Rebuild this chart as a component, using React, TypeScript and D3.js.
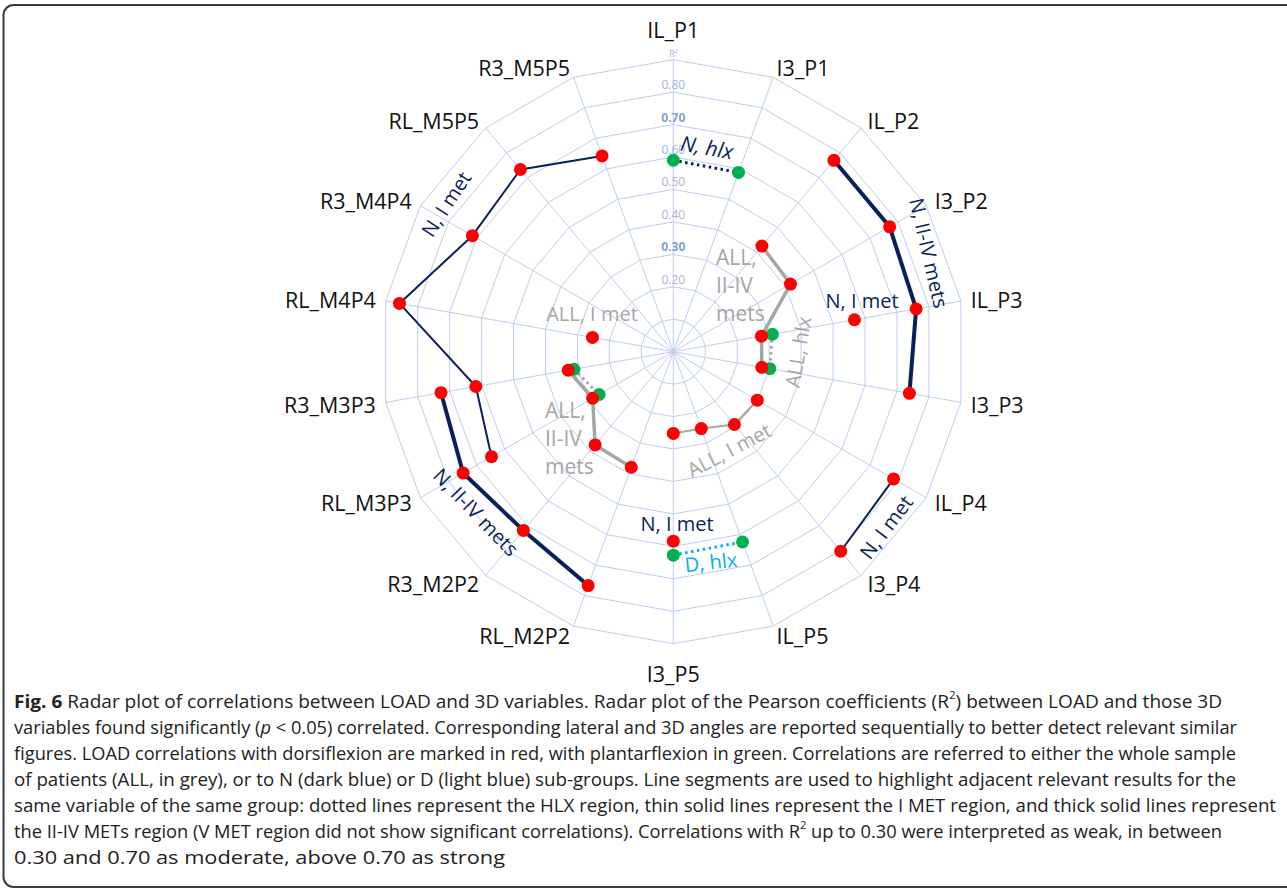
import React from "react";
import * as d3 from "d3";

const axisNames = [
  "IL_P1", "I3_P1", "IL_P2", "I3_P2", "IL_P3", "I3_P3", "IL_P4", "I3_P4", "IL_P5",
  "I3_P5", "RL_M2P2", "R3_M2P2", "RL_M3P3", "R3_M3P3", "RL_M4P4", "R3_M4P4", "RL_M5P5", "R3_M5P5",
];
const ringValues = [0.1, 0.2, 0.3, 0.4, 0.5, 0.6, 0.7, 0.8, 0.9];
const ringLabels = ["", "0.20", "0.30", "0.40", "0.50", "0.60", "0.70", "0.80", "R²"];

// series: axes + values, kind = dorsiflexion (red) or plantarflexion (green)
const nHlxAxes = ["IL_P1", "I3_P1"];
const nHlxValues = [0.59, 0.588];
const nIIIVRightAxes = ["IL_P2", "I3_P2", "IL_P3", "I3_P3"];
const nIIIVRightValues = [0.77, 0.77, 0.76, 0.739];
const nImetP3Axes = ["IL_P3"];
const nImetP3Values = [0.567];
const nImetP4Axes = ["IL_P4", "I3_P4"];
const nImetP4Values = [0.784, 0.803];
const nImetP5Axes = ["I3_P5"];
const nImetP5Values = [0.584];
const dHlxAxes = ["I3_P5", "IL_P5"];
const dHlxValues = [0.627, 0.624];
const allIIIVRightAxes = ["IL_P2", "I3_P2", "IL_P3", "I3_P3"];
const allIIIVRightValues = [0.425, 0.417, 0.276, 0.277];
const allHlxRightAxes = ["IL_P3", "I3_P3"];
const allHlxRightValues = [0.31, 0.302];
const allImetRightAxes = ["IL_P4", "I3_P4", "IL_P5", "I3_P5"];
const allImetRightValues = [0.299, 0.293, 0.252, 0.252];
const allImetLeftAxes = ["RL_M4P4"];
const allImetLeftValues = [0.253];
const allIIIVLeftAxes = ["R3_M3P3", "RL_M3P3", "R3_M2P2", "RL_M2P2"];
const allIIIVLeftValues = [0.329, 0.287, 0.375, 0.379];
const allHlxLeftAxes = ["R3_M3P3", "RL_M3P3"];
const allHlxLeftValues = [0.311, 0.264];
const nImetLeftAxes = ["R3_M5P5", "RL_M5P5", "R3_M4P4", "RL_M4P4", "R3_M3P3", "RL_M3P3"];
const nImetLeftValues = [0.642, 0.733, 0.715, 0.857, 0.618, 0.647];
const nIIIVLeftAxes = ["R3_M3P3", "RL_M3P3", "R3_M2P2", "RL_M2P2"];
const nIIIVLeftValues = [0.727, 0.748, 0.719, 0.767];

const NAVY = "#0a1f5c";
const GREY = "#a6a6a6";
const LBLUE = "#00b0f0";
const RED = "#ff0000";
const GREEN = "#00b050";
const GRID = "#bccdec";

type Series = { axes: string[]; values: number[]; kind: "d" | "p"; color: string; width: number; dash?: string };

const series: Series[] = [
  { axes: nHlxAxes, values: nHlxValues, kind: "p", color: NAVY, width: 3, dash: "2.5 3.5" },
  { axes: nIIIVRightAxes, values: nIIIVRightValues, kind: "d", color: NAVY, width: 4 },
  { axes: nImetP3Axes, values: nImetP3Values, kind: "d", color: NAVY, width: 2 },
  { axes: nImetP4Axes, values: nImetP4Values, kind: "d", color: NAVY, width: 2 },
  { axes: nImetP5Axes, values: nImetP5Values, kind: "d", color: NAVY, width: 2 },
  { axes: dHlxAxes, values: dHlxValues, kind: "p", color: LBLUE, width: 3, dash: "2.5 3.5" },
  { axes: allIIIVRightAxes, values: allIIIVRightValues, kind: "d", color: GREY, width: 3.5 },
  { axes: allHlxRightAxes, values: allHlxRightValues, kind: "p", color: GREY, width: 3, dash: "2.5 3.5" },
  { axes: allImetRightAxes, values: allImetRightValues, kind: "d", color: GREY, width: 2 },
  { axes: allImetLeftAxes, values: allImetLeftValues, kind: "d", color: GREY, width: 2 },
  { axes: allIIIVLeftAxes, values: allIIIVLeftValues, kind: "d", color: GREY, width: 3.5 },
  { axes: allHlxLeftAxes, values: allHlxLeftValues, kind: "p", color: GREY, width: 3, dash: "2.5 3.5" },
  { axes: nImetLeftAxes, values: nImetLeftValues, kind: "d", color: NAVY, width: 2 },
  { axes: nIIIVLeftAxes, values: nIIIVLeftValues, kind: "d", color: NAVY, width: 4 },
];

const FONT = "'Open Sans', 'Noto Sans', sans-serif";

export default function App() {
  const W = 1287, H = 891;
  const cx = 673.3, cy = 351.7, R = 292;
  const r = d3.scaleLinear().domain([0, 0.9]).range([0, R]);
  const angle = d3.scalePoint<string>().domain(axisNames).range([0, 2 * Math.PI * (17 / 18)]);
  const pt = (ax: string, v: number): [number, number] => {
    const a = angle(ax)!;
    return [cx + r(v) * Math.sin(a), cy - r(v) * Math.cos(a)];
  };
  const ring = (v: number) => axisNames.map((ax) => pt(ax, v).join(",")).join(" ");
  const line = d3.line<[number, number]>();

  const annotations = [
    { t: "N, hlx", x: 707, y: 147, rot: 10, c: NAVY, it: true, fs: 21 },
    { t: "N, II-IV mets", x: 929, y: 253, rot: 77, c: NAVY },
    { t: "N, I met", x: 862, y: 300, rot: 0, c: NAVY },
    { t: "ALL, hlx", x: 798, y: 352, rot: -80, c: GREY },
    { t: "ALL, I met", x: 729, y: 450, rot: -28, c: GREY },
    { t: "N, I met", x: 677, y: 523, rot: 0, c: NAVY },
    { t: "D, hlx", x: 711, y: 562, rot: -6, c: LBLUE },
    { t: "N, I met", x: 886, y: 527, rot: -53, c: NAVY },
    { t: "N, I met", x: 446, y: 204, rot: -57, c: NAVY },
    { t: "ALL, I met", x: 592, y: 313, rot: 0, c: GREY },
    { t: "N, II-IV mets", x: 476, y: 512, rot: 46, c: NAVY },
  ];
  const stacked = [
    { lines: ["ALL,", "II-IV", "mets"], x: 716, y: 257, c: GREY },
    { lines: ["ALL,", "II-IV", "mets"], x: 545, y: 410, c: GREY },
  ];

  const capFs = 18;
  const capX = 14;
  const capY = [701, 727, 753, 779, 805, 831, 857];
  const capEnd = [1222, 1237, 1236, 1236, 1276, 1222, 505];

  return (
    <svg width={W} height={H} style={{ position: "absolute", left: 0, top: 0, background: "#fff" }}>
      <rect x={3.5} y={5} width={1300} height={882} rx={10} fill="none" stroke="#3a3a3a" strokeWidth={2} />
      {/* grid */}
      <g>
        {ringValues.map((v) => (
          <polygon key={v} points={ring(v)} fill="none" stroke={GRID} strokeWidth={1} />
        ))}
        {axisNames.map((ax) => {
          const [x, y] = pt(ax, 0.9);
          return <line key={ax} x1={cx} y1={cy} x2={x} y2={y} stroke={GRID} strokeWidth={1} />;
        })}
      </g>
      {/* ring labels */}
      {ringValues.map((v, i) =>
        ringLabels[i] ? (
          <text
            key={"rl" + v}
            x={cx}
            y={cy - r(v) - 3}
            textAnchor="middle"
            fontFamily={FONT}
            fontSize={i === 8 ? 9 : 12}
            fontWeight={v === 0.3 || v === 0.7 ? 700 : 400}
            fill={v === 0.3 || v === 0.7 ? "#7f9fd6" : "#9db5e2"}
          >
            {ringLabels[i]}
          </text>
        ) : null
      )}
      {/* axis labels */}
      {axisNames.map((ax) => {
        const a = angle(ax)!;
        const s = Math.sin(a), c = Math.cos(a);
        const x = cx + (R + 10) * s;
        let y = cy - (R + 10) * c;
        let anchor = "middle";
        if (s > 0.1) anchor = "start";
        else if (s < -0.1) anchor = "end";
        else y -= c * 20;
        return (
          <text key={"al" + ax} x={x} y={y} textAnchor={anchor} dominantBaseline="central" fontFamily={FONT} fontSize={21.5} fill="#111">
            {ax}
          </text>
        );
      })}
      {/* lines */}
      {series.map((s, i) =>
        s.axes.length > 1 ? (
          <path
            key={"ln" + i}
            d={line(s.axes.map((ax, j) => pt(ax, s.values[j])))!}
            fill="none"
            stroke={s.color}
            strokeWidth={s.width}
            strokeDasharray={s.dash}
            strokeLinejoin="round"
          />
        ) : null
      )}
      {/* markers: green first, then red */}
      {(["p", "d"] as const).map((k) =>
        series
          .filter((s) => s.kind === k)
          .map((s, i) =>
            s.axes.map((ax, j) => {
              const [x, y] = pt(ax, s.values[j]);
              return <circle key={k + i + ax + j} cx={x} cy={y} r={6.5} fill={k === "d" ? RED : GREEN} />;
            })
          )
      )}
      {/* annotations */}
      {annotations.map((a, i) => (
        <text
          key={"an" + i}
          x={a.x}
          y={a.y}
          textAnchor="middle"
          dominantBaseline="central"
          fontFamily={FONT}
          fontSize={a.fs || 20}
          fontStyle={a.it ? "italic" : "normal"}
          fill={a.c}
          transform={`rotate(${a.rot},${a.x},${a.y})`}
        >
          {a.t}
        </text>
      ))}
      {stacked.map((s, i) =>
        s.lines.map((l, j) => (
          <text key={"st" + i + j} x={s.x} y={s.y + j * 28} dominantBaseline="central" fontFamily={FONT} fontSize={21} fill={s.c}>
            {l}
          </text>
        ))
      )}
      {/* caption */}
      <g fontFamily={FONT} fontSize={capFs} fill="#222">
        <text x={capX} y={capY[0]} dominantBaseline="central" textLength={capEnd[0] - capX} lengthAdjust="spacingAndGlyphs">
          <tspan fontWeight={700}>Fig. 6</tspan> Radar plot of correlations between LOAD and 3D variables. Radar plot of the Pearson coefficients (R
          <tspan fontSize={11} dy={-7}>2</tspan>
          <tspan dy={7}>) between LOAD and those 3D</tspan>
        </text>
        <text x={capX} y={capY[1]} dominantBaseline="central" textLength={capEnd[1] - capX} lengthAdjust="spacingAndGlyphs">
          variables found significantly (<tspan fontStyle="italic">p</tspan> &lt; 0.05) correlated. Corresponding lateral and 3D angles are reported sequentially to better detect relevant similar
        </text>
        <text x={capX} y={capY[2]} dominantBaseline="central" textLength={capEnd[2] - capX} lengthAdjust="spacingAndGlyphs">
          figures. LOAD correlations with dorsiflexion are marked in red, with plantarflexion in green. Correlations are referred to either the whole sample
        </text>
        <text x={capX} y={capY[3]} dominantBaseline="central" textLength={capEnd[3] - capX} lengthAdjust="spacingAndGlyphs">
          of patients (ALL, in grey), or to N (dark blue) or D (light blue) sub-groups. Line segments are used to highlight adjacent relevant results for the
        </text>
        <text x={capX} y={capY[4]} dominantBaseline="central" textLength={capEnd[4] - capX} lengthAdjust="spacingAndGlyphs">
          same variable of the same group: dotted lines represent the HLX region, thin solid lines represent the I MET region, and thick solid lines represent
        </text>
        <text x={capX} y={capY[5]} dominantBaseline="central" textLength={capEnd[5] - capX} lengthAdjust="spacingAndGlyphs">
          the II-IV METs region (V MET region did not show significant correlations). Correlations with R
          <tspan fontSize={11} dy={-7}>2</tspan>
          <tspan dy={7}> up to 0.30 were interpreted as weak, in between</tspan>
        </text>
        <text x={capX} y={capY[6]} dominantBaseline="central" textLength={capEnd[6] - capX} lengthAdjust="spacingAndGlyphs">
          0.30 and 0.70 as moderate, above 0.70 as strong
        </text>
      </g>
    </svg>
  );
}
